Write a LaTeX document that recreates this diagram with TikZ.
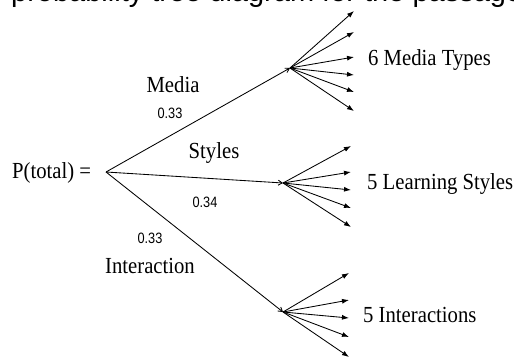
\documentclass[tikz,border=0pt]{standalone}
\usepackage{fontspec}
\setmainfont{Liberation Serif}
\newfontfamily\labelserif[FakeStretch=0.9]{Liberation Serif}
\newfontfamily\headsans{Liberation Sans}
\newfontfamily\numsans[FakeStretch=0.85]{Liberation Sans}
\usetikzlibrary{arrows.meta}

\tikzset{
  label/.style={inner sep=0pt, anchor=base, font=\labelserif\fontsize{23}{26}\selectfont},
  outcome/.style={inner sep=0pt, anchor=base west, font=\labelserif\fontsize{23}{26}\selectfont},
  prob/.style={inner sep=0pt, anchor=base, font=\numsans\fontsize{15}{17}\selectfont},
  branch/.style={line width=0.85pt, -{Straight Barb[length=4pt,width=5pt]}},
  fan/.style={line width=0.85pt, -{Latex[length=7pt,width=5pt]}},
}

\begin{document}
\begin{tikzpicture}[x=1pt,y=-1pt]
  \useasboundingbox[fill=white] (0,0) rectangle (514,362);

  % heading line running off the top edge
  \begin{scope}
    \clip (0,0) rectangle (514,362);
    \node[inner sep=0pt, anchor=base west, font=\headsans\fontsize{29}{32}\selectfont]
      (heading) at (11,1) {probability tree diagram for the passage};
  \end{scope}

  % root
  \node[inner sep=0pt, anchor=base west, font=\labelserif\fontsize{23}{26}\selectfont]
    (total) at (12,178) {P(total) =};
  \coordinate (root) at (106,172);

  % junctions
  \coordinate (jm) at (290,68);
  \coordinate (js) at (283,183);
  \coordinate (ji) at (283,312);

  % main branches
  \draw[branch] (root) -- (jm);
  \draw[branch] (root) -- (js);
  \draw[branch] (root) -- (ji);

  % branch labels
  \node[label] (lmedia) at (173,92) {Media};
  \node[prob]  (pmedia) at (170,118) {0.33};
  \node[label] (lstyles) at (214,158) {Styles};
  \node[prob]  (pstyles) at (205,207) {0.34};
  \node[prob]  (pinter) at (150,243) {0.33};
  \node[label] (linter) at (150,273) {Interaction};

  % media fan
  \foreach \y [count=\i] in {11,32,57,75,92,111}
    \coordinate (m\i) at (354,\y);
  \foreach \i in {1,...,6}
    \draw[fan] (jm) -- (m\i);

  % styles fan
  \foreach \y [count=\i] in {146,172,190,208,227}
    \coordinate (s\i) at (351,\y);
  \foreach \i in {1,...,5}
    \draw[fan] (js) -- (s\i);

  % interactions fan
  \foreach \y [count=\i] in {273,300,318,337,357}
    \coordinate (t\i) at (349,\y);
  \foreach \i in {1,...,5}
    \draw[fan] (ji) -- (t\i);

  % outcome labels
  \node[outcome] (omedia) at (368,65) {6 Media Types};
  \node[outcome] (ostyles) at (367,189) {5 Learning Styles};
  \node[outcome] (ointer) at (363,322) {5 Interactions};
\end{tikzpicture}
\end{document}
